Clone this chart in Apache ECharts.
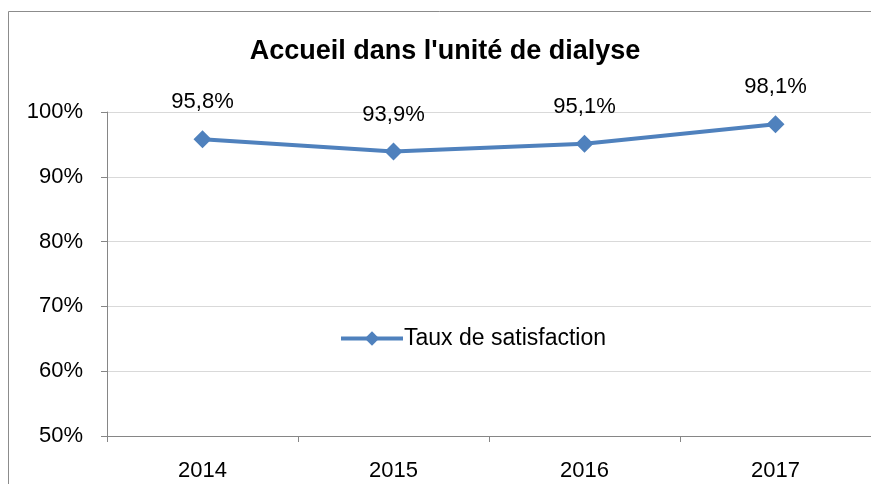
<!DOCTYPE html>
<html>
<head>
<meta charset="utf-8">
<script src="https://cdn.jsdelivr.net/npm/echarts@6/dist/echarts.min.js"></script>
<style>
html,body{margin:0;padding:0;background:#fff;overflow:hidden;}
#chart{width:871px;height:484px;}
</style>
</head>
<body>
<div id="chart"></div>
<script>
var categories = ['2014', '2015', '2016', '2017'];
var satisfaction = [95.8, 93.9, 95.1, 98.1];
var seriesName = 'Taux de satisfaction';
var titleText = "Accueil dans l'unité de dialyse";

var FONT = '"Liberation Sans", Arial, sans-serif';
var chart = echarts.init(document.getElementById('chart'));
chart.setOption({
  animation: false,
  backgroundColor: '#ffffff',
  title: {
    text: titleText,
    left: 440, textAlign: 'center', top: 33,
    textStyle: {fontFamily: FONT, fontSize: 27, fontWeight: 'bold', color: '#000', align: 'center'}
  },
  graphic: [{
    type: 'line', silent: true,
    shape: {x1: 8.5, y1: 11.5, x2: 8.5, y2: 484},
    style: {stroke: '#8c8c8c', lineWidth: 1}
  }, {
    type: 'line', silent: true,
    shape: {x1: 8.5, y1: 11.5, x2: 871, y2: 11.5},
    style: {stroke: '#8c8c8c', lineWidth: 1}
  }],
  legend: {
    left: 334, top: 322,
    itemWidth: 62, itemHeight: 18, itemGap: 0,
    lineStyle: {width: 4},
    textStyle: {fontFamily: FONT, fontSize: 23, color: '#000', padding: [0, 0, 0, -4]},
    data: [seriesName]
  },
  grid: {left: 107, top: 112, width: 768, height: 324},
  xAxis: {
    type: 'category', data: categories, boundaryGap: true,
    axisLine: {lineStyle: {color: '#868686', width: 1}},
    axisTick: {show: true, length: 6, alignWithLabel: false, lineStyle: {color: '#868686'}},
    splitLine: {show: false},
    axisLabel: {fontFamily: FONT, fontSize: 22, color: '#000', margin: 24}
  },
  yAxis: {
    type: 'value', min: 50, max: 100, interval: 10,
    axisLine: {show: true, lineStyle: {color: '#868686', width: 1}},
    axisTick: {show: true, length: 6, lineStyle: {color: '#868686'}},
    splitLine: {lineStyle: {color: '#d9d9d9', width: 1}},
    axisLabel: {fontFamily: FONT, fontSize: 22, color: '#000', margin: 24,
      formatter: function (v) { return v + '%'; }}
  },
  series: [{
    name: seriesName, type: 'line', data: satisfaction,
    symbol: 'diamond', symbolSize: 18,
    lineStyle: {color: '#4f81bd', width: 4},
    itemStyle: {color: '#4f81bd'},
    label: {
      show: true, position: 'top', distance: 17,
      fontFamily: FONT, fontSize: 22, color: '#000',
      formatter: function (p) { return p.value.toFixed(1).replace('.', ',') + '%'; }
    }
  }]
});
</script>
</body>
</html>
